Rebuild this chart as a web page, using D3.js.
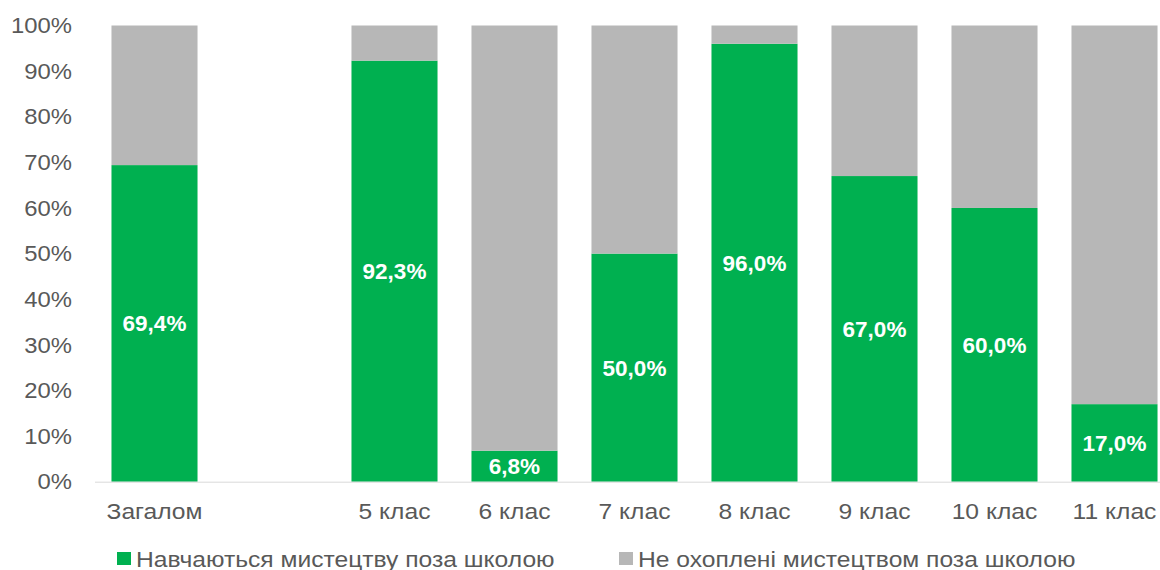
<!DOCTYPE html>
<html lang="uk">

<head>
  <meta charset="UTF-8">
  <title>Chart</title>
  <style>
    html,
    body {
      margin: 0;
      background: #fff;
    }

    svg {
      display: block;
      font-family: "Liberation Sans", Arial, sans-serif;
    }
  </style>
</head>

<body>
  <svg id="chart" width="1160" height="570"></svg>
  <script src="https://cdn.jsdelivr.net/npm/d3@7"></script>
  <script>
    // дані
    var categories = ['Загалом', '', '5 клас', '6 клас', '7 клас', '8 клас', '9 клас', '10 клас', '11 клас']
    var covered = [69.4, null, 92.3, 6.8, 50.0, 96.0, 67.0, 60.0, 17.0]
    var seriesNames = ['Навчаються мистецтву поза школою', 'Не охоплені мистецтвом поза школою']
    var yTicks = [0, 10, 20, 30, 40, 50, 60, 70, 80, 90, 100]

    var colors = ['#00b050', '#b7b7b7']
    var textColor = '#595959'
    var fontSize = 22.5
    var yStretch = 1.06   // текст у референсі трохи розтягнутий по горизонталі
    var xStretch = 1.095

    var rows = categories.map((c, i) => ({
      cat: c || ' ',
      a: covered[i],
      b: covered[i] == null ? null : +(100 - covered[i]).toFixed(1)
    }))

    var svg = d3.select('#chart')

    var x = d3.scaleBand()
      .domain(rows.map(d => d.cat))
      .range([94.5, 1174.5])
      .paddingInner(0.283)
      .paddingOuter(0.1415)

    var y = d3.scaleLinear()
      .domain([0, 100])
      .range([481.7, 25.5])

    var stack = d3.stack().keys(['a', 'b'])
    var series = stack(rows.filter(d => d.a != null))

    svg.append('g')
      .selectAll('g')
      .data(series)
      .join('g')
      .attr('fill', (d, i) => colors[i])
      .selectAll('rect')
      .data(d => d)
      .join('rect')
      .attr('x', d => x(d.data.cat))
      .attr('width', x.bandwidth())
      .attr('y', d => y(d[1]))
      .attr('height', d => y(d[0]) - y(d[1]))

    // підписи значень
    svg.append('g')
      .selectAll('text')
      .data(rows.filter(d => d.a != null))
      .join('text')
      .attr('x', d => x(d.cat) + x.bandwidth() / 2)
      .attr('y', d => (y(0) + y(d.a)) / 2)
      .attr('dy', '0.36em')
      .attr('text-anchor', 'middle')
      .attr('fill', '#fff')
      .attr('font-weight', 'bold')
      .attr('font-size', fontSize)
      .text(d => d.a.toFixed(1).replace('.', ',') + '%')

    // вісь Y
    var yAxis = svg.append('g')
      .attr('transform', 'translate(94.5,0)')
      .call(d3.axisLeft(y).tickValues(yTicks).tickFormat(d => d + '%').tickSize(0).tickPadding(22.5 / yStretch))
    yAxis.select('.domain').remove()
    yAxis.selectAll('text')
      .attr('font-family', '"Liberation Sans", Arial, sans-serif')
      .attr('font-size', fontSize)
      .attr('fill', textColor)
      .attr('transform', `scale(${yStretch},1)`)

    // вісь X
    var xAxis = svg.append('g')
      .attr('transform', `translate(0,${y(0)})`)
      .call(d3.axisBottom(x).tickSize(0).tickPadding(21))
    xAxis.select('.domain')
      .attr('stroke', '#d9d9d9')
      .attr('stroke-width', 1)
    xAxis.selectAll('text')
      .attr('font-family', '"Liberation Sans", Arial, sans-serif')
      .attr('font-size', fontSize)
      .attr('fill', textColor)
      .attr('transform', `scale(${xStretch},1)`)

    // легенда
    var legendX = [117, 619]
    var legend = svg.append('g')
      .selectAll('g')
      .data(seriesNames)
      .join('g')
      .attr('transform', (d, i) => `translate(${legendX[i]},552)`)
    legend.append('rect')
      .attr('width', 14)
      .attr('height', 13)
      .attr('fill', (d, i) => colors[i])
    legend.append('text')
      .attr('transform', `translate(19,14.5) scale(${xStretch},1)`)
      .attr('font-size', fontSize)
      .attr('fill', textColor)
      .text(d => d)
  </script>
</body>

</html>
